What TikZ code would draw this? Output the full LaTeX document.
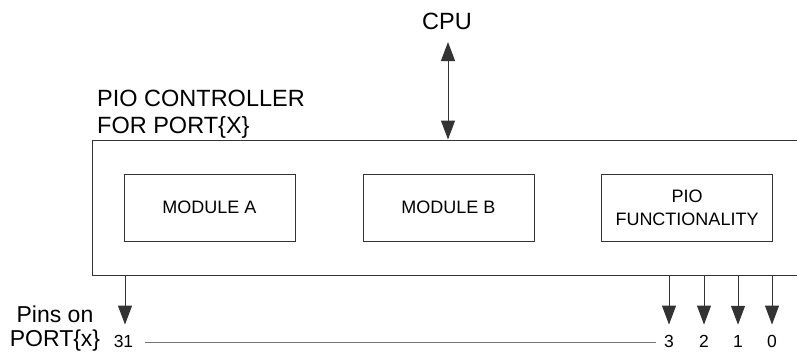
\documentclass[tikz,border=0pt]{standalone}
\usepackage{fontspec}
\setmainfont{Liberation Sans}
\usetikzlibrary{arrows.meta}
\begin{document}
\begin{tikzpicture}[x=1pt,y=-1pt,
  line/.style={draw=black!80,line width=1pt},
  bigtext/.style={font=\fontsize{23.5}{27}\selectfont,inner sep=0pt},
  pintext/.style={font=\fontsize{23}{24}\selectfont,inner sep=0pt,align=center},
  modbox/.style={line,rectangle,minimum width=171pt,minimum height=67pt,inner sep=0pt,
    align=center,font=\fontsize{18}{23}\selectfont},
  digit/.style={font=\fontsize{17.5}{20}\selectfont,inner sep=0pt,anchor=base},
  tip/.style={Triangle[length=19pt,width=14pt]},
  arr/.style={line,-{Triangle[length=19pt,width=14pt]}},
  dblarr/.style={line,{Triangle[length=19pt,width=14pt]}-{Triangle[length=19pt,width=14pt]}},
  bus/.style={draw=black!55,line width=0.6pt}]
  \useasboundingbox (0,0) rectangle (797,354);
  \clip (0,0) rectangle (797,354);

  % controller frame (runs past the right margin)
  \node[line,rectangle,minimum width=718pt,minimum height=135pt,inner sep=0pt] (ctrl) at (451,207.5) {};
  \node[bigtext,align=left,anchor=north west] (title) at (97,90) {PIO CONTROLLER\\FOR PORT\{X\}};

  % internal modules
  \node[modbox] (moda) at (209.5,207.5) {MODULE A};
  \node[modbox] (modb) at (448.5,207.5) {MODULE B};
  \node[modbox] (pio) at (687,207.5) {PIO\\FUNCTIONALITY};

  % CPU interface
  \node[bigtext,anchor=base] (cpu) at (447,29) {CPU};
  \coordinate (cputip) at (448,42);
  \draw[dblarr] (cputip) -- (cputip |- ctrl.north);

  % port pins
  \node[pintext,anchor=north] (pins) at (55,306) {Pins on\\PORT\{x\}};
  \node[digit] (p31) at (123.5,347) {31};
  \node[digit] (p3) at (669,347) {3};
  \node[digit] (p2) at (704,347) {2};
  \node[digit] (p1) at (738,347) {1};
  \node[digit] (p0) at (772,347) {0};

  \draw[arr] (ctrl.south -| 125,0) -- ([xshift=1.5pt,yshift=10pt]p31.north);
  \foreach \p in {p3,p2,p1,p0}
    \draw[arr] (ctrl.south -| \p) -- ([yshift=10pt]\p.north);

  \draw[bus,shorten <=12pt,shorten >=8pt] (p31.east |- 0,342) -- (p3.west |- 0,342);
\end{tikzpicture}
\end{document}
